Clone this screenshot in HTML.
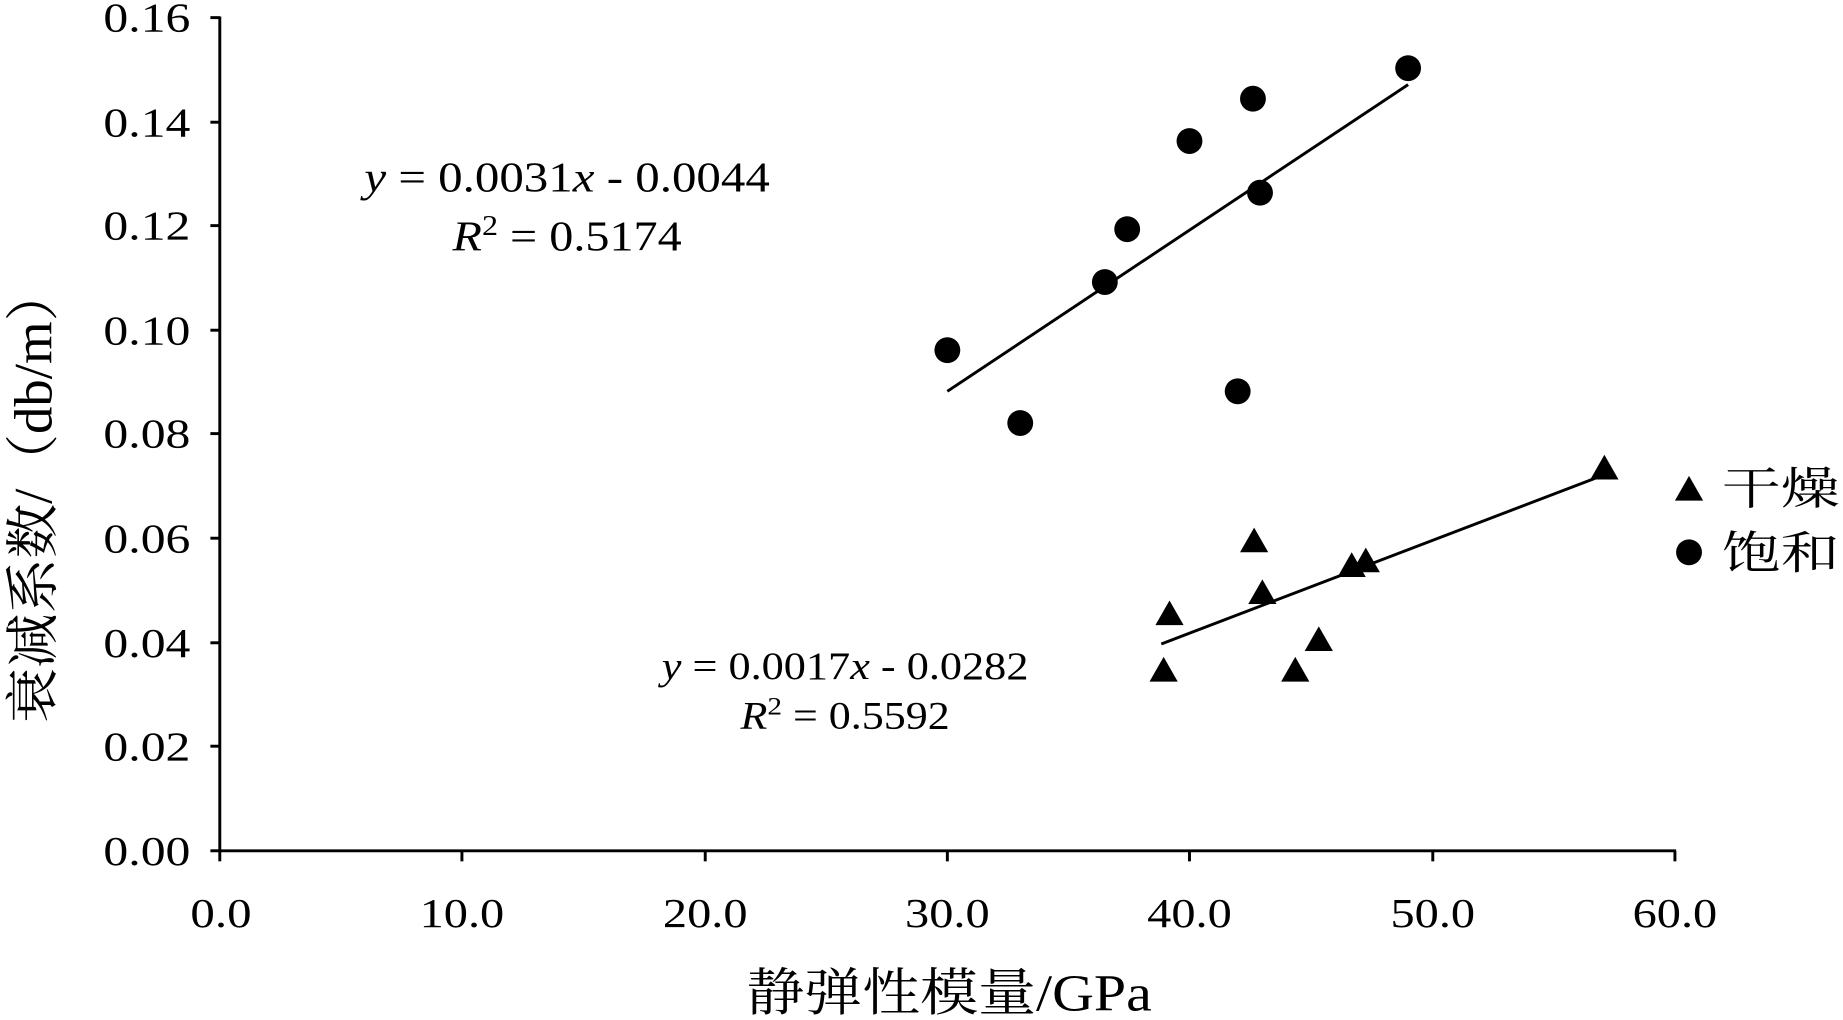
<!DOCTYPE html>
<html><head><meta charset="utf-8"><style>html,body{margin:0;padding:0;background:#fff}svg{display:block}</style></head>
<body>
<svg width="1843" height="1020" viewBox="0 0 1568 868" preserveAspectRatio="none" xmlns="http://www.w3.org/2000/svg" font-family="'Liberation Serif','Noto Serif CJK SC',serif" fill="#000">
<g stroke="#000" stroke-width="2.5" fill="none">
<line x1="187" y1="14" x2="187" y2="725"/>
<line x1="186" y1="724" x2="1426" y2="724"/>
<line x1="179" y1="15" x2="187" y2="15"/>
<line x1="179" y1="104" x2="187" y2="104"/>
<line x1="179" y1="192" x2="187" y2="192"/>
<line x1="179" y1="281" x2="187" y2="281"/>
<line x1="179" y1="369" x2="187" y2="369"/>
<line x1="179" y1="458" x2="187" y2="458"/>
<line x1="179" y1="547" x2="187" y2="547"/>
<line x1="179" y1="635" x2="187" y2="635"/>
<line x1="179" y1="724" x2="187" y2="724"/>
<line x1="187" y1="724" x2="187" y2="733"/>
<line x1="393" y1="724" x2="393" y2="733"/>
<line x1="600" y1="724" x2="600" y2="733"/>
<line x1="806" y1="724" x2="806" y2="733"/>
<line x1="1012" y1="724" x2="1012" y2="733"/>
<line x1="1219" y1="724" x2="1219" y2="733"/>
<line x1="1425" y1="724" x2="1425" y2="733"/>
<line x1="806" y1="333" x2="1198" y2="72"/>
<line x1="988" y1="548" x2="1365" y2="404"/>
</g>
<g font-size="35">
<text x="88" y="27" textLength="74" lengthAdjust="spacingAndGlyphs">0.16</text>
<text x="88" y="116" textLength="74" lengthAdjust="spacingAndGlyphs">0.14</text>
<text x="88" y="204" textLength="74" lengthAdjust="spacingAndGlyphs">0.12</text>
<text x="88" y="293" textLength="74" lengthAdjust="spacingAndGlyphs">0.10</text>
<text x="88" y="381" textLength="74" lengthAdjust="spacingAndGlyphs">0.08</text>
<text x="88" y="470" textLength="74" lengthAdjust="spacingAndGlyphs">0.06</text>
<text x="88" y="559" textLength="74" lengthAdjust="spacingAndGlyphs">0.04</text>
<text x="88" y="647" textLength="74" lengthAdjust="spacingAndGlyphs">0.02</text>
<text x="88" y="736" textLength="74" lengthAdjust="spacingAndGlyphs">0.00</text>
</g>
<g font-size="35">
<text x="162" y="789" textLength="52" lengthAdjust="spacingAndGlyphs">0.0</text>
<text x="357" y="789" textLength="72" lengthAdjust="spacingAndGlyphs">10.0</text>
<text x="564" y="789" textLength="72" lengthAdjust="spacingAndGlyphs">20.0</text>
<text x="770" y="789" textLength="72" lengthAdjust="spacingAndGlyphs">30.0</text>
<text x="976" y="789" textLength="72" lengthAdjust="spacingAndGlyphs">40.0</text>
<text x="1183" y="789" textLength="72" lengthAdjust="spacingAndGlyphs">50.0</text>
<text x="1389" y="789" textLength="72" lengthAdjust="spacingAndGlyphs">60.0</text>
</g>
<text x="635" y="860" font-size="44" textLength="345" lengthAdjust="spacingAndGlyphs">静弹性模量/GPa</text>
<text transform="translate(44,615) rotate(-90)" font-size="46" textLength="388" lengthAdjust="spacingAndGlyphs">衰减系数/（db/m）</text>
<g font-size="36">
<text x="310" y="163" textLength="345" lengthAdjust="spacingAndGlyphs"><tspan font-style="italic">y</tspan> = 0.0031<tspan font-style="italic">x</tspan> - 0.0044</text>
<text x="385" y="213" textLength="195" lengthAdjust="spacingAndGlyphs"><tspan font-style="italic">R</tspan><tspan font-size="24" dy="-13">2</tspan><tspan dy="13"> = 0.5174</tspan></text>
</g>
<g font-size="33">
<text x="563" y="578" textLength="312" lengthAdjust="spacingAndGlyphs"><tspan font-style="italic">y</tspan> = 0.0017<tspan font-style="italic">x</tspan> - 0.0282</text>
<text x="630" y="620" textLength="178" lengthAdjust="spacingAndGlyphs"><tspan font-style="italic">R</tspan><tspan font-size="22" dy="-12">2</tspan><tspan dy="12"> = 0.5592</tspan></text>
</g>
<g>
<circle cx="806" cy="298" r="11"/><circle cx="868" cy="360" r="11"/><circle cx="940" cy="240" r="11"/>
<circle cx="959" cy="195" r="11"/><circle cx="1012" cy="120" r="11"/><circle cx="1053" cy="333" r="11"/>
<circle cx="1066" cy="84" r="11"/><circle cx="1072" cy="164" r="11"/><circle cx="1198" cy="58" r="11"/>
<circle cx="1437" cy="470" r="11"/>
</g>
<g>
<path d="M990 559 l12 21 h-24z"/><path d="M995 511 l12 21 h-24z"/><path d="M1067 449 l12 21 h-24z"/>
<path d="M1074 493 l12 21 h-24z"/><path d="M1102 559 l12 21 h-24z"/><path d="M1122 533 l12 21 h-24z"/>
<path d="M1150 470 l12 21 h-24z"/><path d="M1162 466 l12 21 h-24z"/><path d="M1365 387 l12 21 h-24z"/>
<path d="M1437 405 l12 21 h-24z"/>
</g>
<g font-size="38">
<text x="1465" y="429" textLength="100" lengthAdjust="spacingAndGlyphs">干燥</text>
<text x="1465" y="484" textLength="100" lengthAdjust="spacingAndGlyphs">饱和</text>
</g>
</svg>
</body></html>
